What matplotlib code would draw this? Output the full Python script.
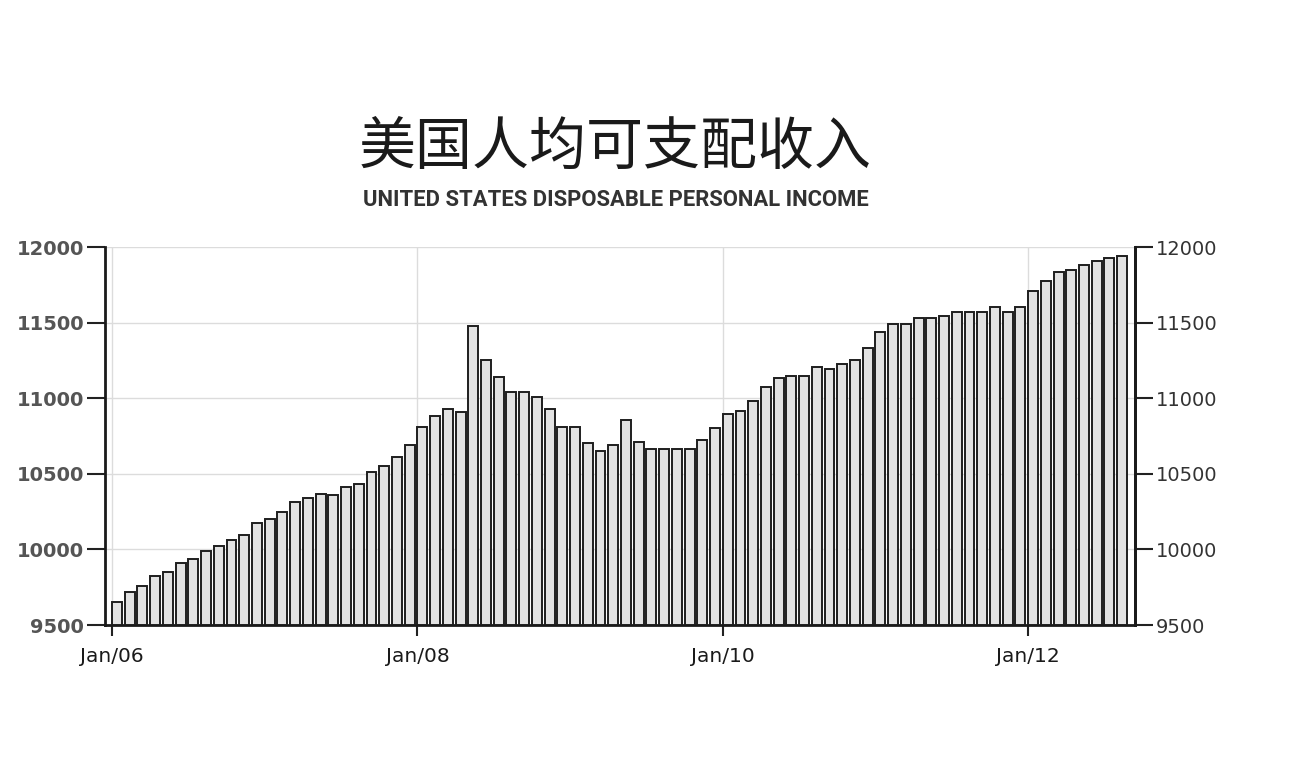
import numpy as np
import matplotlib
matplotlib.use('Agg')
import matplotlib.pyplot as plt

# monthly disposable personal income, Jan 2006 - Aug 2012
income = [
    9654, 9716, 9760, 9823, 9852, 9911, 9936, 9988, 10024, 10063, 10098, 10173,
    10202, 10248, 10312, 10341, 10365, 10358, 10415, 10435, 10512, 10552, 10613, 10688,
    10813, 10880, 10930, 10906, 11480, 11256, 11143, 11044, 11044, 11007, 10930, 10813,
    10813, 10703, 10651, 10690, 10853, 10712, 10662, 10662, 10662, 10662, 10725, 10802,
    10893, 10919, 10981, 11073, 11135, 11145, 11150, 11205, 11194, 11227, 11256, 11333,
    11440, 11489, 11489, 11528, 11528, 11544, 11568, 11568, 11568, 11605, 11568, 11605,
    11707, 11773, 11832, 11847, 11880, 11905, 11927, 11942,
]
tick_months = [0, 24, 48, 72]
tick_labels = ["Jan/06", "Jan/08", "Jan/10", "Jan/12"]
y_ticks = [9500, 10000, 10500, 11000, 11500, 12000]

plt.rcParams['font.family'] = ['DejaVu Sans']

fig = plt.figure(figsize=(13, 7.65), dpi=100)
ax = fig.add_axes([0.0808, 0.183, 0.7923, 0.494])

x = np.arange(len(income))
base = 9500
ax.bar(x, np.array(income) - base, bottom=base, width=0.78, align='edge',
       color='#e2e2e2', edgecolor='#1e1e1e', linewidth=1.4, zorder=3)

ax.set_xlim(-0.55, 80.4)
ax.set_ylim(9500, 12000)

ax.set_xticks(tick_months)
ax.set_xticklabels(tick_labels, fontsize=14.5, color='#1a1a1a')
ax.set_yticks(y_ticks)
ax.set_yticklabels([str(v) for v in y_ticks], fontsize=14, fontweight='bold', color='#555555')

ax.grid(True, color='#dcdcdc', linewidth=1.0, zorder=0)
ax.tick_params(axis='x', length=8, width=1.5, pad=8, color='#222222')
ax.tick_params(axis='y', length=13, width=1.5, pad=2, color='#222222')

ax.spines['top'].set_visible(False)
for side in ['left', 'right', 'bottom']:
    ax.spines[side].set_linewidth(2.0)
    ax.spines[side].set_color('#1a1a1a')

# right-hand copy of the value axis
ax2 = ax.twinx()
ax2.set_ylim(9500, 12000)
ax2.set_yticks(y_ticks)
ax2.set_yticklabels([str(v) for v in y_ticks], fontsize=14, color='#333333')
ax2.tick_params(axis='y', length=13, width=1.5, pad=2, color='#222222')
for side in ['top', 'left', 'bottom']:
    ax2.spines[side].set_visible(False)
ax2.spines['right'].set_linewidth(2.0)
ax2.spines['right'].set_color('#1a1a1a')

fig.text(0.473, 0.807, "美国人均可支配收入", fontsize=41, ha='center', va='center',
         family=['Noto Sans CJK SC', 'DejaVu Sans'], fontweight='medium', color='#1a1a1a')
fig.text(0.474, 0.738, "UNITED STATES DISPOSABLE PERSONAL INCOME", fontsize=15.8,
         ha='center', va='center', family=['Liberation Sans Narrow', 'Roboto', 'DejaVu Sans'],
         fontweight='bold', color='#333333')

plt.savefig("out.png", dpi=100)
plt.close()
